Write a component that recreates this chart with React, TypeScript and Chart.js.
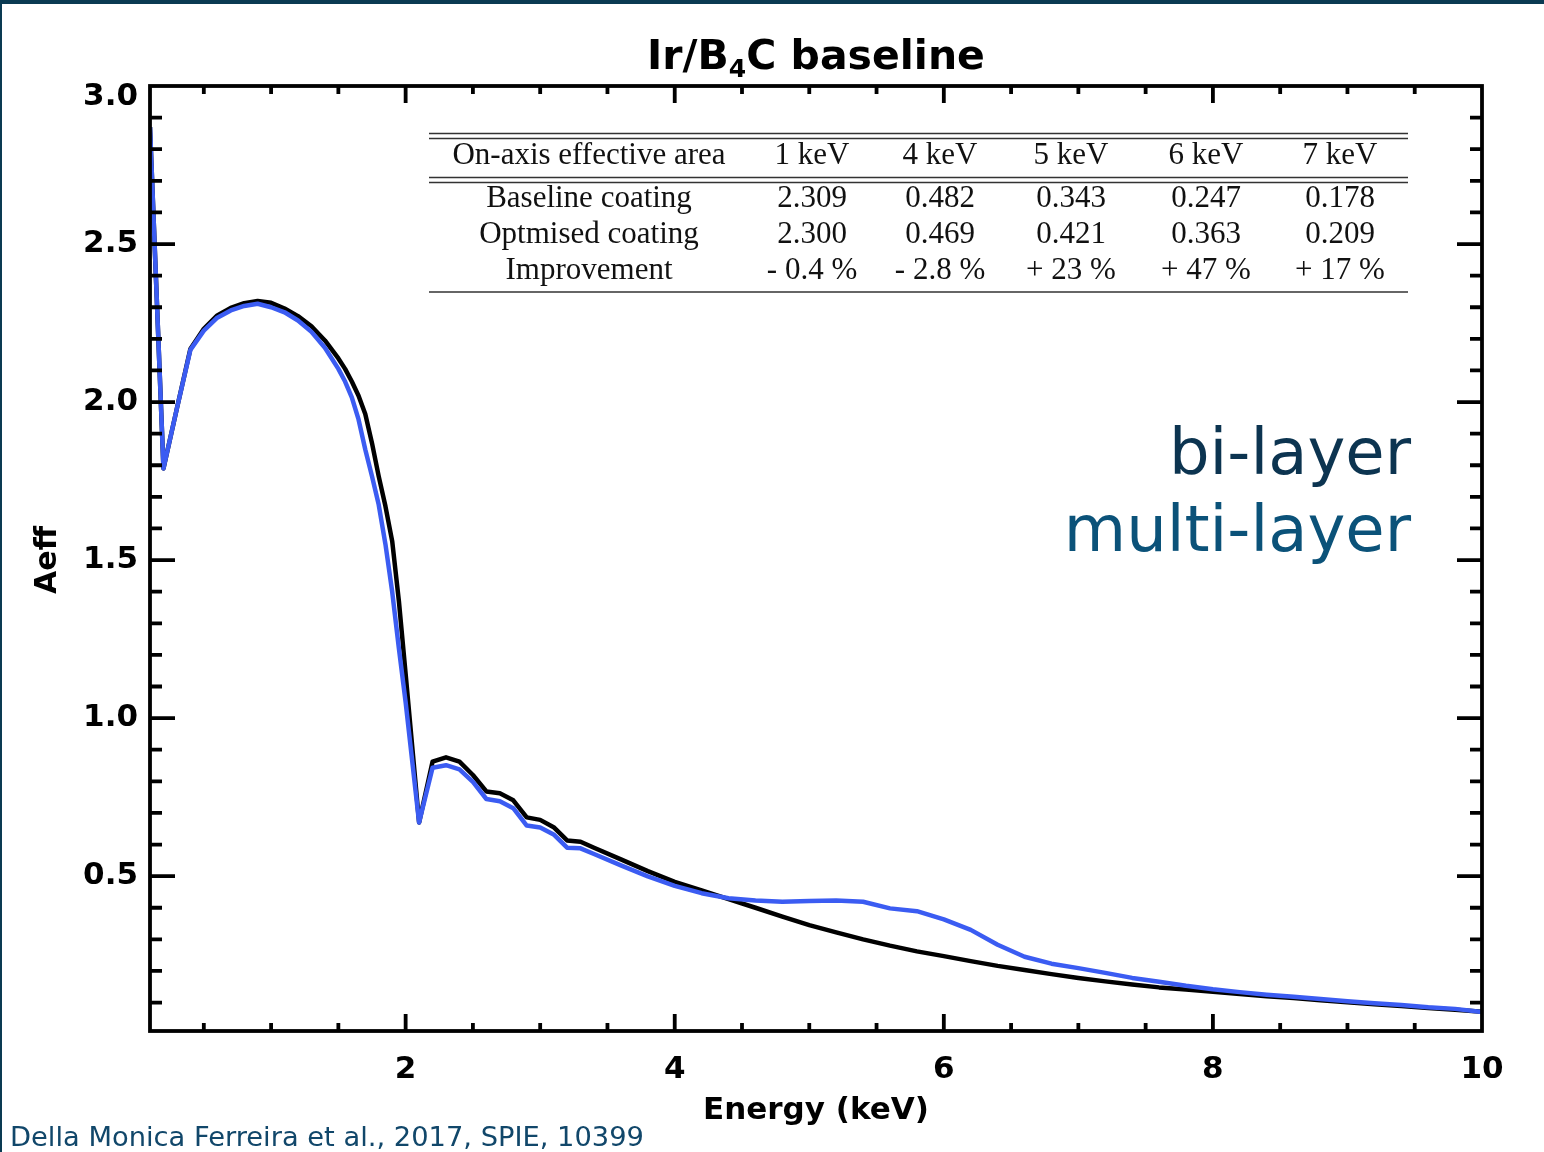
import { useEffect, useRef } from 'react';
import { Chart, registerables } from 'chart.js';

Chart.register(...registerables);

// Photon energy grid (keV)
const energyKeV = [
  0.1, 0.2, 0.3, 0.4, 0.5, 0.6, 0.7, 0.8, 0.9, 1.0,
  1.1, 1.2, 1.3, 1.4, 1.5, 1.55, 1.6, 1.65, 1.7, 1.75,
  1.8, 1.85, 1.9, 1.95, 2.0, 2.1, 2.2, 2.3, 2.4, 2.5,
  2.6, 2.7, 2.8, 2.9, 3.0, 3.1, 3.2, 3.3, 3.4, 3.6,
  3.8, 4.0, 4.2, 4.4, 4.6, 4.8, 5.0, 5.2, 5.4, 5.6,
  5.8, 6.0, 6.2, 6.4, 6.6, 6.8, 7.0, 7.2, 7.4, 7.6,
  7.8, 8.0, 8.2, 8.4, 8.6, 8.8, 9.0, 9.2, 9.4, 9.6,
  9.8, 10.0,
];

// Effective area, Ir/B4C bi-layer (baseline coating)
const baselineAeff = [
  2.87, 1.79, 1.98, 2.168, 2.232, 2.274, 2.298, 2.313, 2.32, 2.314,
  2.296, 2.272, 2.24, 2.195, 2.138, 2.105, 2.065, 2.02, 1.962, 1.87,
  1.765, 1.67, 1.56, 1.37, 1.14, 0.67, 0.862, 0.876, 0.862, 0.82,
  0.768, 0.762, 0.74, 0.686, 0.678, 0.655, 0.613, 0.609, 0.59, 0.553,
  0.516, 0.482, 0.455, 0.427, 0.4, 0.372, 0.345, 0.322, 0.3, 0.28,
  0.262, 0.247, 0.231, 0.216, 0.203, 0.19, 0.178, 0.167, 0.157, 0.148,
  0.141, 0.134, 0.127, 0.12, 0.114, 0.107, 0.101, 0.095, 0.089, 0.083,
  0.077, 0.071,
];

// Effective area, optimised multi-layer coating
const optimisedAeff = [
  2.87, 1.79, 1.98, 2.165, 2.226, 2.267, 2.29, 2.304, 2.311, 2.3,
  2.284, 2.258, 2.222, 2.172, 2.105, 2.065, 2.015, 1.945, 1.85, 1.765,
  1.675, 1.55, 1.4, 1.22, 1.05, 0.67, 0.843, 0.851, 0.838, 0.798,
  0.744, 0.737, 0.715, 0.66, 0.654, 0.632, 0.59, 0.588, 0.57, 0.534,
  0.499, 0.469, 0.446, 0.43, 0.423, 0.419, 0.421, 0.423, 0.419, 0.398,
  0.389, 0.363, 0.33, 0.283, 0.245, 0.223, 0.209, 0.194, 0.178, 0.166,
  0.153, 0.142, 0.133, 0.125, 0.118, 0.111, 0.104, 0.098, 0.092, 0.085,
  0.08, 0.07,
];

// Summary table
const tableHeader = ['On-axis effective area', '1 keV', '4 keV', '5 keV', '6 keV', '7 keV'];
const tableBaseline = ['Baseline coating', '2.309', '0.482', '0.343', '0.247', '0.178'];
const tableOptimised = ['Optmised coating', '2.300', '0.469', '0.421', '0.363', '0.209'];
const tableImprovement = ['Improvement', '- 0.4 %', '- 2.8 %', '+ 23 %', '+ 47 %', '+ 17 %'];

const citation = 'Della Monica Ferreira et al., 2017, SPIE, 10399';

const AXIS_FONT = '"DejaVu Sans", "Liberation Sans", sans-serif';
const SERIF_FONT = '"Liberation Serif", "DejaVu Serif", serif';
const NAVY = '#0a3a52';
const TICK_FONT_SIZE = 31;
const Y_LABEL_GAP = 12;
const Y_MAX = 3.0;

const framePlugin = {
  id: 'idlFrame',
  afterDatasetsDraw(chart: any) {
    const { ctx, chartArea, scales } = chart;
    const { left, right, top, bottom } = chartArea;
    const xs = scales.x;
    const ys = scales.y;
    ctx.save();
    ctx.strokeStyle = '#000';
    ctx.lineWidth = 3.8;
    ctx.lineCap = 'butt';
    ctx.strokeRect(left, top, right - left, bottom - top);

    // x ticks (bottom and mirrored top)
    for (let i = 1; i < 20; i++) {
      const v = i * 0.5;
      const major = i % 4 === 0;
      const len = major ? 17 : 8;
      const px = xs.getPixelForValue(v);
      ctx.beginPath();
      ctx.moveTo(px, bottom);
      ctx.lineTo(px, bottom - len);
      ctx.moveTo(px, top);
      ctx.lineTo(px, top + len);
      ctx.stroke();
    }
    // y ticks (left and mirrored right)
    for (let i = 1; i < 30; i++) {
      const v = i * 0.1;
      const major = i % 5 === 0;
      const len = major ? 25 : 12;
      const py = ys.getPixelForValue(v);
      ctx.beginPath();
      ctx.moveTo(left, py);
      ctx.lineTo(left + len, py);
      ctx.moveTo(right, py);
      ctx.lineTo(right - len, py);
      ctx.stroke();
    }

    // top y label sits just inside the frame
    ctx.fillStyle = '#000';
    ctx.font = `bold ${TICK_FONT_SIZE}px ${AXIS_FONT}`;
    ctx.textAlign = 'right';
    ctx.textBaseline = 'middle';
    ctx.fillText(Y_MAX.toFixed(1), left - Y_LABEL_GAP, ys.getPixelForValue(Y_MAX) + 11);
    ctx.restore();
  },
  afterDraw(chart: any) {
    const { ctx, chartArea } = chart;
    const { left, right } = chartArea;
    const cx = (left + right) / 2;
    ctx.save();

    // page frame
    ctx.fillStyle = NAVY;
    ctx.fillRect(0, 0, chart.width, 4);
    ctx.fillRect(0, 0, 2, chart.height);

    // title with subscript
    ctx.fillStyle = '#000';
    ctx.textBaseline = 'alphabetic';
    ctx.textAlign = 'left';
    const big = `bold 41px ${AXIS_FONT}`;
    const small = `bold 25px ${AXIS_FONT}`;
    const parts = [
      { t: 'Ir/B', f: big, dy: 0 },
      { t: '4', f: small, dy: 8 },
      { t: 'C baseline', f: big, dy: 0 },
    ];
    let total = 0;
    for (const p of parts) {
      ctx.font = p.f;
      total += ctx.measureText(p.t).width;
    }
    let tx = cx - total / 2;
    for (const p of parts) {
      ctx.font = p.f;
      ctx.fillText(p.t, tx, 69 + p.dy);
      tx += ctx.measureText(p.t).width;
    }

    // axis titles
    ctx.font = `bold 31px ${AXIS_FONT}`;
    ctx.textAlign = 'center';
    ctx.textBaseline = 'middle';
    ctx.fillText('Energy (keV)', cx, 1111);
    ctx.save();
    ctx.translate(48, 560);
    ctx.rotate(-Math.PI / 2);
    ctx.font = `bold 30px ${AXIS_FONT}`;
    ctx.fillText('Aeff', 0, 0);
    ctx.restore();

    // table
    const tLeft = 429;
    const tRight = 1408;
    ctx.strokeStyle = '#333';
    ctx.lineWidth = 1.6;
    for (const ly of [133.5, 138.5, 177.5, 182.5, 292]) {
      ctx.beginPath();
      ctx.moveTo(tLeft, ly);
      ctx.lineTo(tRight, ly);
      ctx.stroke();
    }
    const colX = [589, 812, 940, 1071, 1206, 1340];
    const rows: [string[], number][] = [
      [tableHeader, 156],
      [tableBaseline, 199],
      [tableOptimised, 235],
      [tableImprovement, 271],
    ];
    ctx.fillStyle = '#111';
    ctx.font = `31px ${SERIF_FONT}`;
    ctx.textAlign = 'center';
    ctx.textBaseline = 'middle';
    for (const [row, ry] of rows) {
      row.forEach((cell, i) => ctx.fillText(cell, colX[i], ry));
    }

    // coating labels
    ctx.textAlign = 'right';
    ctx.textBaseline = 'alphabetic';
    ctx.font = `64px ${AXIS_FONT}`;
    ctx.fillStyle = '#0c3450';
    ctx.fillText('bi-layer', 1411, 474);
    ctx.fillStyle = '#0b5279';
    ctx.fillText('multi-layer', 1411, 551);

    // reference
    ctx.textAlign = 'left';
    ctx.font = `27.3px ${AXIS_FONT}`;
    ctx.fillStyle = '#11476a';
    ctx.fillText(citation, 10, 1146);

    ctx.restore();
  },
};

export default function App() {
  const canvasRef = useRef<HTMLCanvasElement | null>(null);

  useEffect(() => {
    document.body.style.margin = '0';
    const canvas = canvasRef.current;
    if (!canvas) return;
    const chart = new Chart(canvas, {
      type: 'line',
      data: {
        datasets: [
          {
            label: 'multi-layer',
            data: energyKeV.map((e, i) => ({ x: e, y: optimisedAeff[i] })),
            borderColor: '#3b5cf2',
            borderWidth: 4.5,
            pointRadius: 0,
            tension: 0,
            borderJoinStyle: 'round',
            order: 0,
          },
          {
            label: 'bi-layer',
            data: energyKeV.map((e, i) => ({ x: e, y: baselineAeff[i] })),
            borderColor: '#000000',
            borderWidth: 4.5,
            pointRadius: 0,
            tension: 0,
            borderJoinStyle: 'round',
            order: 1,
          },
        ],
      },
      options: {
        responsive: false,
        animation: false,
        devicePixelRatio: 1,
        layout: { padding: { top: 86, right: 62, left: 0, bottom: 0 } },
        plugins: {
          legend: { display: false },
          title: { display: false },
          tooltip: { enabled: false },
        },
        scales: {
          x: {
            type: 'linear',
            min: 0.1,
            max: 10,
            grid: { display: false, drawTicks: false, tickLength: 0 },
            border: { display: false },
            ticks: {
              stepSize: 2,
              includeBounds: false,
              autoSkip: false,
              maxRotation: 0,
              padding: 20,
              color: '#000',
              font: { family: AXIS_FONT, size: TICK_FONT_SIZE, weight: 'bold' },
            },
            afterFit: (scale: any) => {
              scale.height = 121;
            },
          },
          y: {
            type: 'linear',
            min: 0.01,
            max: Y_MAX,
            grid: { display: false, drawTicks: false, tickLength: 0 },
            border: { display: false },
            ticks: {
              stepSize: 0.5,
              includeBounds: false,
              autoSkip: false,
              padding: Y_LABEL_GAP,
              color: '#000',
              font: { family: AXIS_FONT, size: TICK_FONT_SIZE, weight: 'bold' },
              callback: (v: any) => (Number(v) >= Y_MAX ? '' : Number(v).toFixed(1)),
            },
            afterFit: (scale: any) => {
              scale.width = 150;
            },
          },
        },
      },
      plugins: [framePlugin],
    } as any);
    return () => chart.destroy();
  }, []);

  return (
    <div style={{ position: 'absolute', left: 0, top: 0, width: 1544, height: 1152, background: '#fff' }}>
      <canvas ref={canvasRef} width={1544} height={1152} />
    </div>
  );
}
